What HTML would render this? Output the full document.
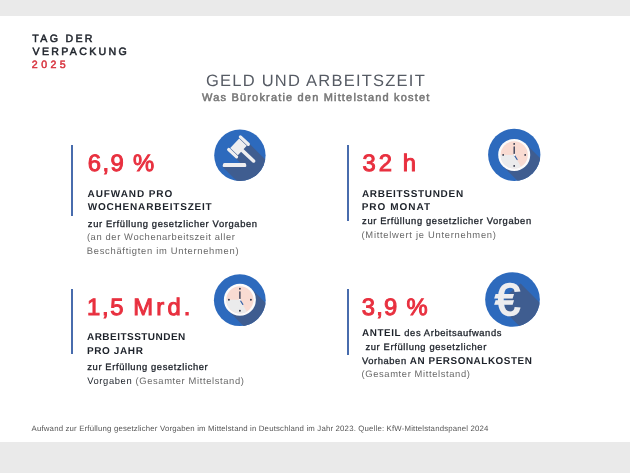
<!DOCTYPE html><html lang="de"><head><meta charset="utf-8"><title>Geld und Arbeitszeit</title>
<style>
html,body{margin:0;padding:0;background:#fff}
body{width:630px;height:473px;position:relative;overflow:hidden;font-family:"Liberation Sans", sans-serif;text-rendering:geometricPrecision;}
.t{position:absolute;white-space:pre;line-height:1;margin:0}
.bar{position:absolute;left:0;width:630px;background:#eaeaea}
.vl{position:absolute;width:1.5px;background:#486cad}
svg{position:absolute;left:0;top:0}
</style></head><body>
<div class="bar" style="top:0;height:16px"></div>
<div class="bar" style="top:441.8px;height:31.2px"></div>
<div class="vl" style="left:71.4px;top:144.7px;height:71.0px"></div>
<div class="vl" style="left:347.2px;top:144.7px;height:75.9px"></div>
<div class="vl" style="left:71.4px;top:289.0px;height:65.0px"></div>
<div class="vl" style="left:347.2px;top:289.0px;height:65.8px"></div>
<svg width="630" height="473" viewBox="0 0 630 473">
<defs>
<clipPath id="c1"><circle cx="239.9" cy="155.3" r="25.7"/></clipPath>
<clipPath id="c2"><circle cx="514.25" cy="154.85" r="26.15"/></clipPath>
<clipPath id="c3"><circle cx="239.8" cy="300.2" r="25.9"/></clipPath>
<clipPath id="c4"><circle cx="512.5" cy="299.5" r="27.35"/></clipPath>
</defs>
<!-- icon 1: gavel -->
<circle cx="239.9" cy="155.3" r="25.7" fill="#2d6abd"/>
<g clip-path="url(#c1)">
  <g transform="translate(238.5,146.9) rotate(45)">
    <rect x="-4" y="-10" width="70" height="20" fill="#3f5d90"/>
  </g>
  <polygon points="222.8,167 246.2,163.2 296.2,213.2 272.8,217" fill="#3f5d90"/>
  <polygon points="222.8,163.2 246.2,163.2 246.2,167 222.8,167" fill="#3f5d90"/>
  <g transform="translate(238.5,146.9) rotate(43)" fill="#eeeef0">
    <rect x="0" y="-1.8" width="22.4" height="3.6" rx="1.8"/>
    <rect x="-5.2" y="-6.5" width="10.4" height="13"/>
    <rect x="-7" y="-10.2" width="14" height="3.2" rx="1.6"/>
    <rect x="-7" y="7" width="14" height="3.2" rx="1.6"/>
  </g>
  <path d="M224.6 163 H244.6 Q245.8 163 246 164 L246.3 165.8 Q246.4 167 245.2 167 H223.8 Q222.5 167 222.7 165.8 L223.1 164 Q223.4 163 224.6 163 Z" fill="#eeeef0"/>
</g>
<!-- icon 2: clock -->
<circle cx="514.25" cy="154.85" r="26.15" fill="#2d6abd"/>
<g clip-path="url(#c2)"><g transform="translate(514.2,154.9)">
  <g transform="rotate(45)"><rect x="0" y="-16" width="60" height="32" fill="#3f5d90"/></g>
  <circle r="16" fill="#fbfbfb"/>
  <circle r="13.6" fill="#f9dbd2"/>
  <path d="M0 0 L6.8 11.78 A13.6 13.6 0 0 1 -13.6 0 Z" fill="#ebebec"/>
  <circle cx="0" cy="-11" r="0.95" fill="#35394a"/>
  <circle cx="11" cy="0" r="0.95" fill="#35394a"/>
  <circle cx="0" cy="11" r="0.95" fill="#35394a"/>
  <circle cx="-11" cy="0" r="0.95" fill="#35394a"/>
  <line x1="0" y1="0" x2="0" y2="-8" stroke="#2c3550" stroke-width="1.3" stroke-linecap="round"/>
  <line x1="0" y1="0" x2="2.9" y2="4.6" stroke="#3b65a8" stroke-width="1.2" stroke-linecap="round"/>
  <circle r="1.1" fill="#fff"/>
</g></g>
<!-- icon 3: clock -->
<circle cx="239.8" cy="300.2" r="25.9" fill="#2d6abd"/>
<g clip-path="url(#c3)"><g transform="translate(239.9,299.8)">
  <g transform="rotate(45)"><rect x="0" y="-16" width="60" height="32" fill="#3f5d90"/></g>
  <circle r="16" fill="#fbfbfb"/>
  <circle r="13.6" fill="#f9dbd2"/>
  <path d="M0 0 L6.8 11.78 A13.6 13.6 0 0 1 -13.6 0 Z" fill="#ebebec"/>
  <circle cx="0" cy="-11" r="0.95" fill="#35394a"/>
  <circle cx="11" cy="0" r="0.95" fill="#35394a"/>
  <circle cx="0" cy="11" r="0.95" fill="#35394a"/>
  <circle cx="-11" cy="0" r="0.95" fill="#35394a"/>
  <line x1="0" y1="0" x2="0" y2="-8" stroke="#2c3550" stroke-width="1.3" stroke-linecap="round"/>
  <line x1="0" y1="0" x2="2.9" y2="4.6" stroke="#3b65a8" stroke-width="1.2" stroke-linecap="round"/>
  <circle r="1.1" fill="#fff"/>
</g></g>
<!-- icon 4: euro -->
<circle cx="512.5" cy="299.5" r="27.35" fill="#2d6abd"/>
<g clip-path="url(#c4)">
  <polygon points="520.6,283.6 560.6,323.6 544.3,351 504.3,311 506,296" fill="#3f5d90"/>
  <text x="494.9" y="315.0" font-family="Liberation Sans, sans-serif" font-weight="400" font-size="45" fill="#ededef" stroke="#ededef" stroke-width="1.7" stroke-linejoin="miter">€</text>
</g>
</svg>

<div class="t" id="l0" style="left:32.36px;top:34.00px;font-size:10.6px;letter-spacing:2.306px;"><span style="font-weight:400;color:#1d222a;-webkit-text-stroke:0.5px #1d222a;">TAG DER</span></div>
<div class="t" id="l1" style="left:32.58px;top:47.00px;font-size:10.6px;letter-spacing:2.308px;"><span style="font-weight:400;color:#1d222a;-webkit-text-stroke:0.5px #1d222a;">VERPACKUNG</span></div>
<div class="t" id="l2" style="left:31.85px;top:60.00px;font-size:10.6px;letter-spacing:3.427px;"><span style="font-weight:400;color:#d8343f;-webkit-text-stroke:0.5px #d8343f;">2025</span></div>
<div class="t" id="l3" style="left:205.92px;top:73.00px;font-size:16.5px;letter-spacing:1.241px;"><span style="font-weight:400;color:#565b64;">GELD UND ARBEITSZEIT</span></div>
<div class="t" id="l4" style="left:202.11px;top:93.00px;font-size:11.0px;letter-spacing:1.175px;"><span style="font-weight:400;color:#767676;-webkit-text-stroke:0.5px #767676;">Was Bürokratie den Mittelstand kostet</span></div>
<div class="t" id="l5" style="left:87.85px;top:152.00px;font-size:23.8px;letter-spacing:1.394px;"><span style="font-weight:400;color:#e8303f;-webkit-text-stroke:1.0px #e8303f;">6,9 %</span></div>
<div class="t" id="l6" style="left:87.52px;top:190.00px;font-size:10.0px;letter-spacing:0.922px;"><span style="font-weight:700;color:#1d222a;">AUFWAND PRO</span></div>
<div class="t" id="l7" style="left:87.73px;top:203.00px;font-size:10.0px;letter-spacing:0.805px;"><span style="font-weight:700;color:#1d222a;">WOCHENARBEITSZEIT</span></div>
<div class="t" id="l8" style="left:87.84px;top:219.00px;font-size:9.4px;letter-spacing:0.625px;"><span style="font-weight:400;color:#1d222a;-webkit-text-stroke:0.3px #1d222a;">zur Erfüllung gesetzlicher Vorgaben</span></div>
<div class="t" id="l9" style="left:86.88px;top:232.00px;font-size:9.4px;letter-spacing:0.617px;"><span style="font-weight:400;color:#686868;">(an der Wochenarbeitszeit aller</span></div>
<div class="t" id="l10" style="left:86.82px;top:246.00px;font-size:9.4px;letter-spacing:0.709px;"><span style="font-weight:400;color:#686868;">Beschäftigten im Unternehmen)</span></div>
<div class="t" id="l11" style="left:362.44px;top:152.00px;font-size:23.8px;letter-spacing:3.000px;word-spacing:-1.79px;"><span style="font-weight:400;color:#e8303f;-webkit-text-stroke:1.0px #e8303f;">32 h</span></div>
<div class="t" id="l12" style="left:361.94px;top:190.00px;font-size:10.0px;letter-spacing:0.688px;"><span style="font-weight:700;color:#1d222a;">ARBEITSSTUNDEN</span></div>
<div class="t" id="l13" style="left:361.64px;top:203.00px;font-size:10.0px;letter-spacing:1.014px;"><span style="font-weight:700;color:#1d222a;">PRO MONAT</span></div>
<div class="t" id="l14" style="left:362.12px;top:216.00px;font-size:9.4px;letter-spacing:0.617px;"><span style="font-weight:400;color:#1d222a;-webkit-text-stroke:0.3px #1d222a;">zur Erfüllung gesetzlicher Vorgaben</span></div>
<div class="t" id="l15" style="left:361.54px;top:230.00px;font-size:9.4px;letter-spacing:0.719px;"><span style="font-weight:400;color:#686868;">(Mittelwert je Unternehmen)</span></div>
<div class="t" id="l16" style="left:87.08px;top:296.00px;font-size:23.8px;letter-spacing:1.700px;word-spacing:-0.29px;"><span style="font-weight:400;color:#e8303f;-webkit-text-stroke:1.0px #e8303f;">1,5 </span><span style="font-weight:400;color:#e8303f;letter-spacing:3.2px;-webkit-text-stroke:1.0px #e8303f;">Mrd.</span></div>
<div class="t" id="l17" style="left:86.98px;top:333.00px;font-size:10.0px;letter-spacing:0.469px;"><span style="font-weight:700;color:#1d222a;">ARBEITSSTUNDEN</span></div>
<div class="t" id="l18" style="left:86.92px;top:347.00px;font-size:10.0px;letter-spacing:0.613px;"><span style="font-weight:700;color:#1d222a;">PRO JAHR</span></div>
<div class="t" id="l19" style="left:87.32px;top:362.00px;font-size:9.4px;letter-spacing:0.607px;"><span style="font-weight:400;color:#1d222a;-webkit-text-stroke:0.3px #1d222a;">zur Erfüllung gesetzlicher</span></div>
<div class="t" id="l20" style="left:87.16px;top:376.00px;font-size:9.4px;letter-spacing:0.621px;"><span style="font-weight:400;color:#1d222a;">Vorgaben</span><span style="font-weight:400;color:#686868;"> (Gesamter Mittelstand)</span></div>
<div class="t" id="l21" style="left:361.78px;top:296.00px;font-size:23.8px;letter-spacing:1.231px;"><span style="font-weight:400;color:#e8303f;-webkit-text-stroke:1.0px #e8303f;">3,9 %</span></div>
<div class="t" id="l22" style="left:361.95px;top:328.00px;font-size:9.4px;letter-spacing:0.588px;"><span style="font-weight:700;color:#1d222a;font-size:9.9px;">ANTEIL</span><span style="font-weight:400;color:#1d222a;-webkit-text-stroke:0.3px #1d222a;"> des Arbeitsaufwands</span></div>
<div class="t" id="l23" style="left:365.42px;top:342.00px;font-size:9.4px;letter-spacing:0.625px;"><span style="font-weight:400;color:#1d222a;-webkit-text-stroke:0.3px #1d222a;">zur Erfüllung gesetzlicher</span></div>
<div class="t" id="l24" style="left:362.03px;top:356.00px;font-size:9.4px;letter-spacing:0.563px;"><span style="font-weight:400;color:#1d222a;-webkit-text-stroke:0.3px #1d222a;">Vorhaben </span><span style="font-weight:700;color:#1d222a;font-size:9.9px;">AN PERSONALKOSTEN</span></div>
<div class="t" id="l25" style="left:361.54px;top:369.00px;font-size:9.4px;letter-spacing:0.619px;"><span style="font-weight:400;color:#686868;">(Gesamter Mittelstand)</span></div>
<div class="t" id="l26" style="left:31.59px;top:425.00px;font-size:7.8px;letter-spacing:0.177px;"><span style="font-weight:400;color:#555;">Aufwand zur Erfüllung gesetzlicher Vorgaben im Mittelstand in Deutschland im Jahr 2023. Quelle: KfW-Mittelstandspanel 2024</span></div>
</body></html>
